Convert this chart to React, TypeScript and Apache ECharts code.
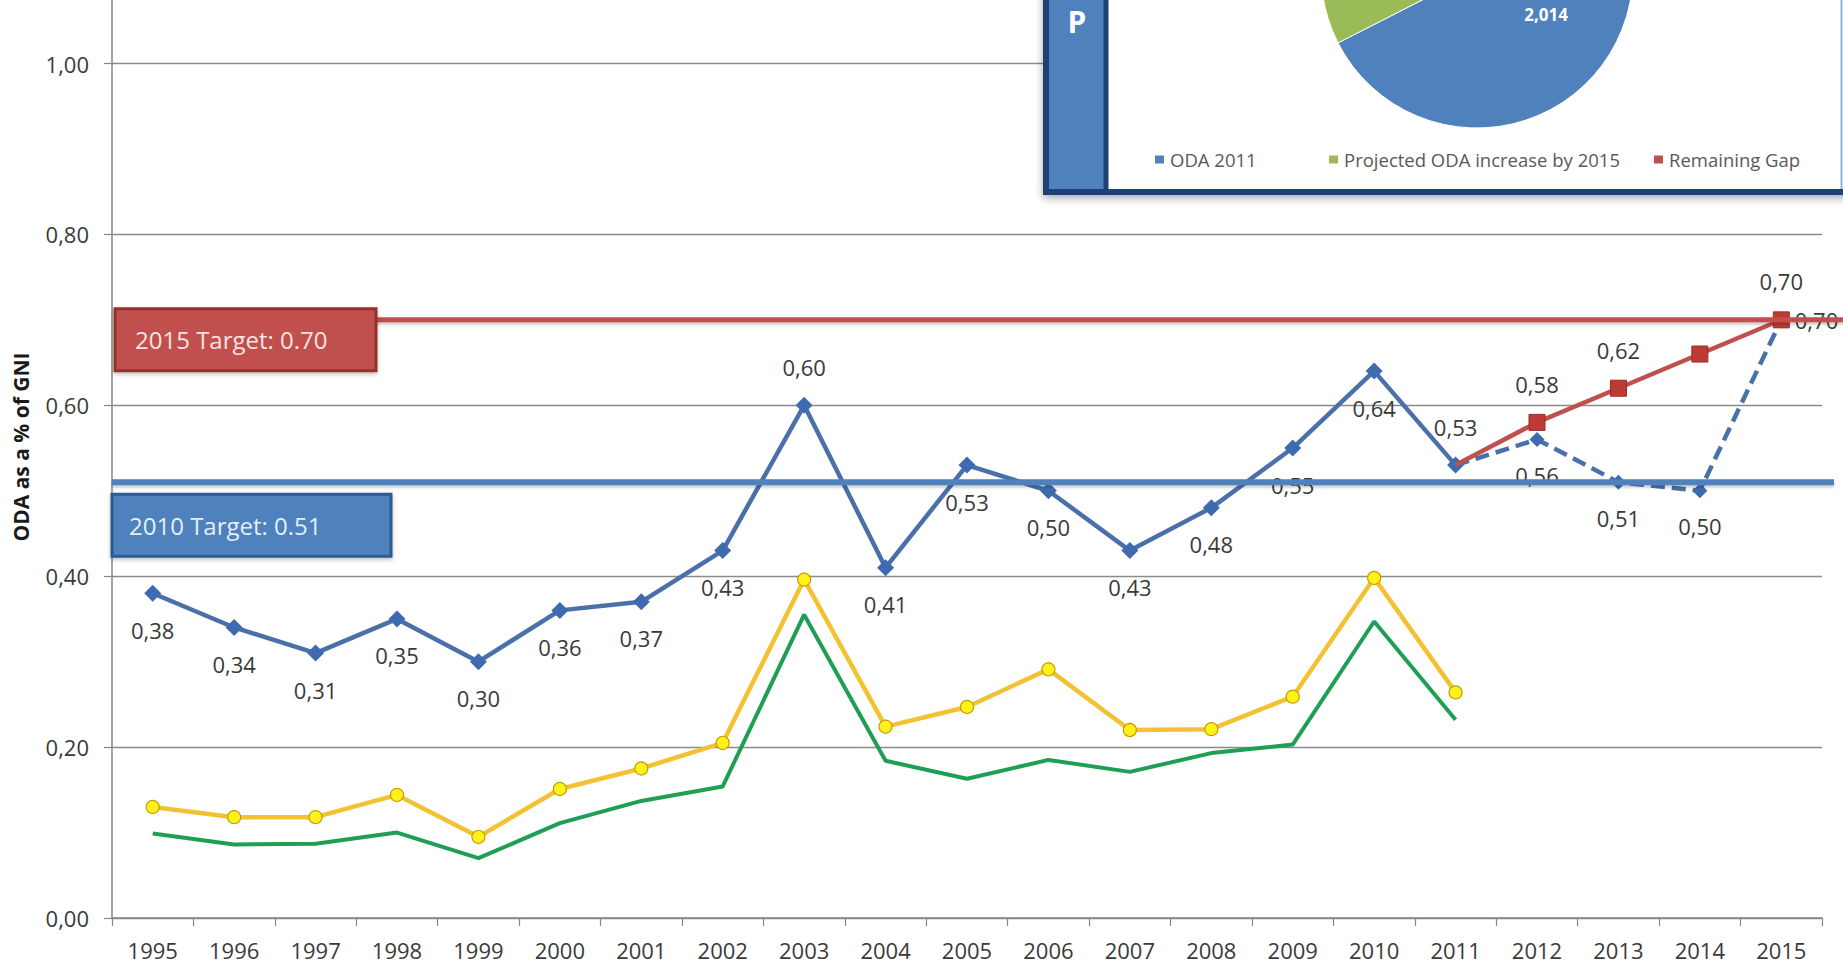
import React, { useEffect, useRef } from "react";
import * as echarts from "echarts";

// ---------- data ----------
const years = [
  "1995", "1996", "1997", "1998", "1999", "2000", "2001", "2002", "2003", "2004", "2005",
  "2006", "2007", "2008", "2009", "2010", "2011", "2012", "2013", "2014", "2015",
];

// ODA as % of GNI, actual
const odaActual = [
  0.38, 0.34, 0.31, 0.35, 0.30, 0.36, 0.37, 0.43, 0.60, 0.41, 0.53,
  0.50, 0.43, 0.48, 0.55, 0.64, 0.53, null, null, null, null,
];
// projected ODA (dashed)
const odaProjected = [
  null, null, null, null, null, null, null, null, null, null, null,
  null, null, null, null, null, 0.53, 0.56, 0.51, 0.50, 0.70,
];
// path to the 0.7 target (red)
const pathToTarget = [
  null, null, null, null, null, null, null, null, null, null, null,
  null, null, null, null, null, 0.53, 0.58, 0.62, 0.66, 0.70,
];
// yellow series (circle markers)
const odaExclDebtRelief = [
  0.13, 0.118, 0.118, 0.144, 0.095, 0.151, 0.175, 0.205, 0.396, 0.224, 0.247,
  0.291, 0.22, 0.221, 0.259, 0.398, 0.264, null, null, null, null,
];
// green series
const genuineAid = [
  0.099, 0.086, 0.087, 0.10, 0.07, 0.111, 0.137, 0.154, 0.355, 0.184, 0.163,
  0.185, 0.171, 0.193, 0.203, 0.347, 0.232, null, null, null, null,
];

const yMin = 0;
const yMax = 1.0;
const yInterval = 0.2;

const targetLabels = ["2015 Target: 0.70", "2010 Target: 0.51"];
const targetValues = [0.70, 0.51];

const pieNames = ["ODA 2011", "Projected ODA increase by 2015", "Remaining Gap"];
const pieValues = [2014, 650, 320];

// label placement (style, not data)
const actualLabelPos = [
  "bottom", "bottom", "bottom", "bottom", "bottom", "bottom", "bottom", "bottom", "top", "bottom", "bottom",
  "bottom", "bottom", "bottom", "bottom", "bottom", "top", null, null, null, null,
];
const projectedLabelPos = [
  null, null, null, null, null, null, null, null, null, null, null,
  null, null, null, null, null, null, "bottom", "bottom", "bottom", "right",
];
const pathLabelPos = [
  null, null, null, null, null, null, null, null, null, null, null,
  null, null, null, null, null, null, "top", "top", null, "top",
];
// the red path starts on the last actual point: no own marker there
const pathMarkerHidden = [
  false, false, false, false, false, false, false, false, false, false, false,
  false, false, false, false, false, true, false, false, false, false,
];

// ---------- styles ----------
const FONT = "'Open Sans', 'Noto Sans', 'DejaVu Sans', sans-serif";
const AXIS_COLOR = "#868686";
const TEXT_COLOR = "#3a3a3a";
const BLUE_LINE = "#4A70AA";
const BLUE_MARK = "#3E6BB0";
const RED = "#C0504D";
const NAVY = "#1D4274";

const GRID = { left: 112, right: 21, top: 63.5, bottom: 51 };

const labelDistance: Record<string, number> = { top: 19, bottom: 17, right: 6 };

function fmt(v: number) {
  return Number(v).toFixed(2).replace(".", ",");
}

function labelled(values: (number | null)[], positions: (string | null)[], hidden?: boolean[]) {
  return values.map((v, i) => {
    if (v == null) return null;
    const pos = positions[i];
    const item: any = {
      value: v,
      label: pos
        ? { show: true, position: pos, distance: labelDistance[pos] }
        : { show: false },
    };
    if (hidden && hidden[i]) item.symbol = "none";
    return item;
  });
}

function buildOption(): any {
  const dataLabel = {
    show: false,
    fontFamily: FONT,
    fontSize: 22,
    color: TEXT_COLOR,
    formatter: (p: any) => fmt(p.value),
  };
  const legendText = { fontFamily: FONT, fontSize: 18.5, color: "#595959" };
  return {
    animation: false,
    backgroundColor: "#ffffff",
    textStyle: { fontFamily: FONT },
    grid: { ...GRID, containLabel: false, outerBoundsMode: "none" },
    xAxis: {
      type: "category",
      data: years,
      boundaryGap: true,
      axisLine: { show: true, lineStyle: { color: AXIS_COLOR, width: 1.5 } },
      axisTick: { show: true, interval: 0, length: 8, lineStyle: { color: AXIS_COLOR, width: 1.2 } },
      axisLabel: { interval: 0, margin: 21, fontFamily: FONT, fontSize: 22, color: TEXT_COLOR },
      splitLine: { show: false },
    },
    yAxis: {
      type: "value",
      min: yMin,
      max: yMax,
      interval: yInterval,
      axisLine: { show: true, lineStyle: { color: AXIS_COLOR, width: 1.5 } },
      axisTick: { show: true, length: 8, lineStyle: { color: AXIS_COLOR, width: 1.2 } },
      axisLabel: { margin: 23, fontFamily: FONT, fontSize: 22, color: TEXT_COLOR, formatter: (v: number) => fmt(v) },
      splitLine: { show: true, lineStyle: { color: "#8a8a8a", width: 1.4 } },
    },
    legend: [
      {
        data: [pieNames[0]], left: 1153, top: 150, padding: 0, icon: "rect", itemWidth: 11, itemHeight: 10,
        selectedMode: false, z: 30, textStyle: legendText,
      },
      {
        data: [pieNames[1]], left: 1327, top: 150, padding: 0, icon: "rect", itemWidth: 11, itemHeight: 10,
        selectedMode: false, z: 30, textStyle: legendText,
      },
      {
        data: [pieNames[2]], left: 1652, top: 150, padding: 0, icon: "rect", itemWidth: 11, itemHeight: 10,
        selectedMode: false, z: 30, textStyle: legendText,
      },
    ],
    series: [
      {
        name: "Genuine aid",
        type: "line",
        data: genuineAid,
        symbol: "none",
        lineStyle: { color: "#1F9E55", width: 4 },
        itemStyle: { color: "#1F9E55" },
        z: 2,
        silent: true,
      },
      {
        name: "ODA excl. debt relief",
        type: "line",
        data: odaExclDebtRelief,
        symbol: "circle",
        symbolSize: 13,
        showAllSymbol: true,
        lineStyle: { color: "#F3C232", width: 4.5 },
        itemStyle: { color: "#FFF21A", borderColor: "#C99A00", borderWidth: 1.2 },
        z: 2,
        silent: true,
      },
      {
        name: "ODA",
        type: "line",
        data: labelled(odaActual, actualLabelPos),
        symbol: "diamond",
        symbolSize: 17,
        showAllSymbol: true,
        lineStyle: { color: BLUE_LINE, width: 4.5 },
        itemStyle: { color: BLUE_MARK },
        label: dataLabel,
        z: 3,
        silent: true,
      },
      {
        name: "Projected ODA",
        type: "line",
        data: labelled(odaProjected, projectedLabelPos),
        symbol: "diamond",
        symbolSize: 15,
        showAllSymbol: true,
        lineStyle: { color: BLUE_LINE, width: 4.5, type: [14, 7] },
        itemStyle: { color: BLUE_MARK },
        label: dataLabel,
        z: 3,
        silent: true,
      },
      {
        name: "Path to 0.7%",
        type: "line",
        data: labelled(pathToTarget, pathLabelPos, pathMarkerHidden),
        symbol: "rect",
        symbolSize: 16,
        showAllSymbol: true,
        lineStyle: { color: RED, width: 4.5 },
        itemStyle: { color: "#BE3A34", borderColor: "#9A2A25", borderWidth: 1 },
        label: dataLabel,
        z: 4,
        silent: true,
      },
      {
        name: "Pie",
        type: "pie",
        center: [1477, -28],
        radius: 156,
        startAngle: 90,
        clockwise: true,
        z: 20,
        silent: true,
        labelLine: { show: false },
        label: {
          show: true,
          position: "inside",
          color: "#ffffff",
          fontFamily: FONT,
          fontWeight: "bold",
          fontSize: 17,
          formatter: (p: any) => Number(p.value).toLocaleString("en-US"),
        },
        itemStyle: { borderColor: "#ffffff", borderWidth: 1 },
        data: pieNames.map((n, i) => ({
          name: n,
          value: pieValues[i],
          itemStyle: { color: ["#4F81BD", "#9BBB59", "#C0504D"][i] },
          label: { show: i === 0 },
        })),
      },
    ],
  };
}

function buildGraphics(chart: any) {
  const yOf = (v: number) => chart.convertToPixel({ yAxisIndex: 0 }, v) as number;
  const els: any[] = [];

  // y axis line continues above the top gridline
  els.push({
    type: "line",
    silent: true,
    z: 1,
    shape: { x1: GRID.left, y1: 0, x2: GRID.left, y2: yOf(yMax) },
    style: { stroke: AXIS_COLOR, lineWidth: 1.5 },
  });

  // target lines and their labels
  const tStyle = [
    { line: "#C0504D", fill: "#C0504D", border: "#93302C", text: "#FBE3E3", lineW: 5, x0: 115, x1: 1843, boxX: 115, boxW: 261, dy: -11, textX: 135 },
    { line: "#4F81BD", fill: "#4F81BD", border: "#2D5A90", text: "#E3EEFA", lineW: 6, x0: 112, x1: 1834, boxX: 112, boxW: 279, dy: 12, textX: 129 },
  ];
  targetValues.forEach((v, i) => {
    const s = tStyle[i];
    const y = yOf(v);
    els.push({
      type: "rect",
      silent: true,
      z: 5,
      shape: { x: s.x0, y: y - s.lineW / 2, width: s.x1 - s.x0, height: s.lineW },
      style: { fill: s.line, shadowBlur: 3, shadowColor: "rgba(0,0,0,0.25)", shadowOffsetY: 2 },
    });
    els.push({
      type: "rect",
      silent: true,
      z: 6,
      shape: { x: s.boxX, y: y + s.dy, width: s.boxW, height: 62 },
      style: { fill: s.fill, stroke: s.border, lineWidth: 3, shadowBlur: 4, shadowColor: "rgba(0,0,0,0.25)", shadowOffsetY: 2 },
    });
    els.push({
      type: "text",
      silent: true,
      z: 7,
      x: s.textX,
      y: y + s.dy + 31,
      style: { text: targetLabels[i], fill: s.text, font: `24px ${FONT}`, align: "left", verticalAlign: "middle" },
    });
  });

  // y axis title
  els.push({
    type: "text",
    silent: true,
    z: 7,
    x: 21,
    y: 447,
    rotation: Math.PI / 2,
    style: { text: "ODA as a % of GNI", fill: "#1a1a1a", font: `bold 21px ${FONT}`, align: "center", verticalAlign: "middle" },
  });

  // inset box (pie panel)
  els.push({
    type: "rect",
    silent: true,
    z: 10,
    shape: { x: 1046, y: -20, width: 820, height: 212 },
    style: { fill: "#ffffff", stroke: NAVY, lineWidth: 6, shadowBlur: 8, shadowColor: "rgba(0,0,0,0.35)", shadowOffsetY: 3 },
  });
  els.push({
    type: "rect",
    silent: true,
    z: 11,
    shape: { x: 1049, y: -20, width: 56, height: 209 },
    style: { fill: "#4F81BD" },
  });
  els.push({
    type: "rect",
    silent: true,
    z: 12,
    shape: { x: 1103.5, y: 0, width: 5, height: 190 },
    style: { fill: NAVY },
  });
  els.push({
    type: "rect",
    silent: true,
    z: 12,
    shape: { x: 1840.5, y: 0, width: 2, height: 189 },
    style: { fill: "#8DB3E2" },
  });
  els.push({
    type: "text",
    silent: true,
    z: 12,
    x: 1077,
    y: 21,
    style: { text: "P", fill: "#ffffff", font: `bold 30px ${FONT}`, align: "center", verticalAlign: "middle" },
  });

  return els;
}

export default function App() {
  const ref = useRef<HTMLDivElement>(null);
  useEffect(() => {
    document.body.style.margin = "0";
    const chart = echarts.init(ref.current as HTMLDivElement, null, { renderer: "svg" });
    chart.setOption(buildOption());
    chart.setOption({ graphic: { elements: buildGraphics(chart) } });
    return () => {
      chart.dispose();
    };
  }, []);
  return (
    <div
      ref={ref}
      style={{ position: "absolute", left: 0, top: 0, width: 1843, height: 969, background: "#ffffff" }}
    />
  );
}
